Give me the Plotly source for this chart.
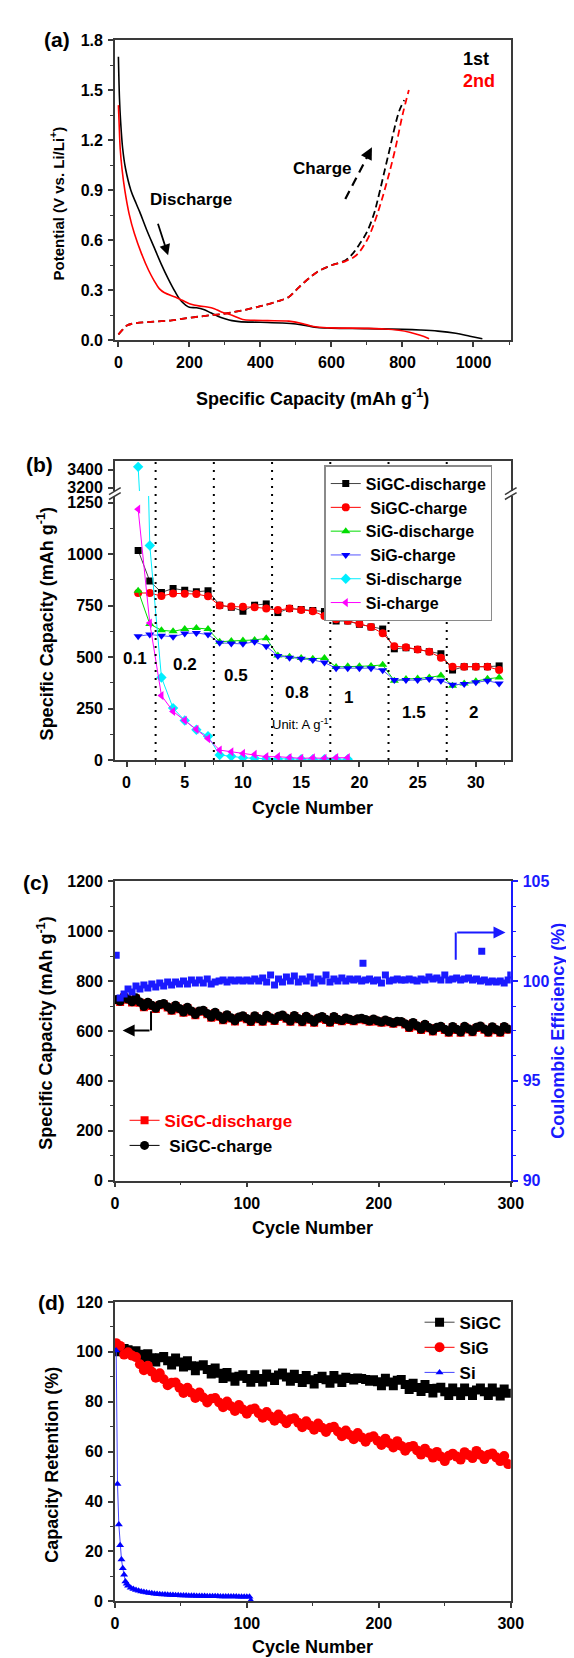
import plotly.graph_objects as go

FONT = "Liberation Sans, Arial, Helvetica, sans-serif"
W, H = 574, 1658
AX = "#3a3a3a"

# ---------------- panel (a): voltage profiles ----------------
a_dis1_cap = [0, 3, 6, 12, 20, 35, 50, 60, 80, 100, 120, 140, 160, 175, 190, 200, 220, 240, 260, 280, 300,
              320, 340, 400, 460, 500, 530, 560, 600, 700, 800, 850, 900, 950, 990, 1025]
a_dis1_v = [1.70, 1.45, 1.32, 1.15, 1.03, 0.90, 0.82, 0.77, 0.66, 0.56, 0.46, 0.37, 0.29, 0.24, 0.21, 0.198,
            0.195, 0.185, 0.165, 0.145, 0.13, 0.118, 0.112, 0.108, 0.104, 0.098, 0.088, 0.077, 0.073, 0.07,
            0.066, 0.062, 0.055, 0.042, 0.025, 0.01]
a_dis2_cap = [0, 2, 5, 10, 18, 30, 45, 65, 85, 100, 115, 130, 160, 180, 200, 230, 250, 270, 290, 320, 350,
              380, 420, 480, 520, 540, 560, 600, 700, 750, 790, 820, 850, 875]
a_dis2_v = [1.41, 1.30, 1.15, 1.03, 0.90, 0.76, 0.64, 0.52, 0.42, 0.36, 0.31, 0.285, 0.26, 0.24, 0.22, 0.205,
            0.20, 0.19, 0.17, 0.15, 0.125, 0.12, 0.118, 0.115, 0.10, 0.087, 0.08, 0.075, 0.072, 0.068, 0.06,
            0.048, 0.03, 0.01]
a_chg1_cap = [0, 10, 25, 40, 100, 150, 200, 250, 300, 350, 400, 450, 480, 500, 530, 560, 600, 640, 660, 680,
              700, 720, 730, 760, 790, 805]
a_chg1_v = [0.035, 0.06, 0.09, 0.10, 0.112, 0.12, 0.135, 0.148, 0.16, 0.18, 0.205, 0.235, 0.26, 0.30, 0.36,
            0.41, 0.45, 0.48, 0.52, 0.58, 0.65, 0.76, 0.84, 1.11, 1.37, 1.44]
a_chg2_cap = [0, 10, 25, 40, 100, 150, 200, 250, 300, 350, 400, 450, 480, 500, 530, 560, 600, 640, 670, 700,
              720, 740, 760, 780, 800, 818]
a_chg2_v = [0.035, 0.06, 0.09, 0.10, 0.112, 0.12, 0.135, 0.148, 0.16, 0.18, 0.205, 0.235, 0.26, 0.30, 0.36,
            0.41, 0.45, 0.475, 0.51, 0.60, 0.70, 0.83, 0.98, 1.15, 1.35, 1.50]

# ---------------- panel (b): rate performance ----------------
b_cycles = list(range(1, 33))
b_sigc_dis = [1018, 869, 814, 833, 824, 817, 822, 752, 742, 723, 752, 758, 716, 736, 731, 726, 721, 675, 675,
              659, 646, 636, 540, 545, 537, 526, 516, 437, 453, 453, 453, 457]
b_sigc_chg = [811, 811, 796, 809, 808, 806, 795, 750, 745, 744, 742, 736, 728, 736, 729, 723, 699, 684, 676,
              662, 646, 615, 553, 548, 537, 526, 497, 453, 453, 453, 453, 437]
b_sig_dis = [822, 660, 630, 625, 636, 641, 636, 574, 578, 580, 583, 591, 508, 502, 495, 492, 495, 452, 455,
             455, 457, 462, 385, 393, 396, 401, 410, 361, 372, 383, 394, 401]
b_sig_chg = [601, 609, 604, 598, 614, 617, 609, 569, 566, 564, 574, 553, 505, 497, 492, 486, 473, 446, 446,
             446, 446, 436, 388, 388, 388, 393, 385, 365, 369, 377, 385, 372]
b_si_cycles = list(range(1, 20))
b_si_dis = [3430, 1042, 401, 252, 192, 147, 115, 24, 18, 11, 8, 6, 5, 5, 4, 4, 4, 4, 4]
b_si_chg = [1218, 665, 313, 236, 192, 149, 104, 48, 40, 32, 27, 16, 16, 11, 8, 10, 8, 11, 11]
b_rate_bounds = [2.5, 7.5, 12.5, 17.5, 22.5, 27.5]
b_rate_labels = ["0.1", "0.2", "0.5", "0.8", "1", "1.5", "2"]
b_rate_lx = [0.7, 5.0, 9.4, 14.6, 19.1, 24.7, 29.8]
b_rate_ly = [494, 462, 409, 329, 304, 232, 232]

# ---------------- panel (c): long cycling SiGC ----------------
c_cycles = list(range(1, 300, 3))
c_charge = [726, 719, 738, 728, 717, 733, 716, 698, 715, 703,
            691, 706, 710, 697, 684, 703, 690, 676, 695, 680,
            666, 680, 683, 670, 656, 675, 660, 646, 665, 653,
            641, 656, 661, 650, 639, 661, 650, 640, 663, 653,
            643, 659, 664, 652, 640, 662, 650, 638, 659, 648,
            636, 652, 658, 647, 636, 658, 647, 642, 652, 647,
            642, 649, 651, 646, 640, 648, 641, 636, 644, 638,
            632, 639, 638, 629, 615, 634, 621, 607, 627, 614,
            601, 615, 619, 607, 596, 618, 607, 596, 619, 609,
            598, 615, 620, 608, 596, 617, 606, 596, 618, 608]
c_discharge = [723, 716, 735, 725, 714, 730, 713, 695, 712, 700,
               688, 703, 707, 694, 681, 700, 687, 673, 692, 677,
               663, 677, 680, 667, 653, 672, 657, 643, 662, 650,
               638, 653, 658, 647, 636, 658, 647, 637, 660, 650,
               640, 656, 661, 649, 637, 659, 647, 635, 656, 645,
               633, 649, 655, 644, 633, 655, 644, 639, 649, 644,
               639, 646, 648, 643, 637, 645, 638, 633, 641, 635,
               629, 636, 635, 626, 612, 631, 618, 604, 624, 611,
               598, 612, 616, 604, 593, 615, 604, 593, 616, 606,
               595, 612, 617, 605, 593, 614, 603, 593, 615, 605]
c_ce = [101.3, 99.15, 99.35, 99.6, 99.45, 99.75, 99.6, 99.8, 99.65, 99.85,
        99.7, 99.9, 99.75, 99.95, 99.8, 99.95, 99.85, 100.0, 99.85, 100.05,
        99.9, 100.05, 99.9, 100.1, 99.85, 99.95, 100.0, 100.05, 99.95, 100.05,
        100.0, 100.05, 100.0, 100.05, 100.0, 100.1, 100.0, 100.15, 99.95, 100.3,
        99.8, 100.1, 99.95, 100.2, 100.0, 100.25, 99.95, 100.1, 100.0, 100.2,
        99.9, 100.1, 100.0, 100.3, 99.95, 100.1, 100.0, 100.15, 100.0, 100.1,
        100.05, 100.1, 100.0, 100.05, 100.1, 100.0, 100.05, 99.9, 100.3, 100.0,
        100.05, 100.1, 100.05, 100.05, 100.1, 100.05, 100.0, 100.1, 100.05, 100.2,
        100.1, 100.15, 100.05, 100.3, 100.05, 100.1, 100.15, 100.05, 100.1, 100.15,
        100.05, 100.1, 100.0, 100.05, 99.95, 100.0, 99.95, 100.0, 99.9, 100.05]
c_ce_extra_cycles = [188, 278, 300]
c_ce_extra = [100.9, 101.5, 100.3]

# ---------------- panel (d): capacity retention ----------------
d_cycles = list(range(1, 300, 3))
d_sigc = [100.0, 100.5, 101.3, 100.8, 99.3, 100.4, 99.0, 97.5, 99.2, 97.6,
          95.9, 97.6, 98.1, 96.4, 94.7, 97.5, 95.9, 93.9, 96.4, 94.4,
          92.4, 94.3, 94.8, 92.9, 91.1, 93.5, 91.4, 89.3, 91.7, 89.9,
          88.2, 90.2, 90.8, 89.3, 87.8, 90.8, 89.3, 87.9, 91.1, 89.8,
          88.5, 90.7, 91.5, 89.9, 88.2, 91.0, 89.3, 87.7, 90.5, 88.8,
          87.1, 89.3, 90.2, 88.8, 87.4, 90.5, 89.1, 87.7, 89.8, 89.3,
          88.7, 89.5, 89.3, 88.9, 88.2, 88.8, 88.0, 86.4, 89.4, 87.9,
          86.4, 88.6, 88.9, 86.9, 84.9, 87.4, 85.7, 84.1, 86.9, 85.3,
          83.5, 85.4, 85.8, 84.0, 82.5, 85.5, 84.0, 82.5, 85.5, 84.0,
          82.5, 84.7, 85.5, 84.0, 82.5, 85.5, 83.9, 82.3, 85.1, 83.4]
d_sig = [103.5, 102.4, 98.9, 99.8, 98.5, 97.9, 95.0, 92.6, 94.4, 92.0,
         89.6, 91.4, 89.0, 86.6, 87.6, 87.7, 85.6, 83.5, 85.6, 83.6,
         81.5, 83.7, 81.7, 79.7, 81.2, 81.5, 79.7, 77.8, 80.1, 78.2,
         76.3, 78.7, 76.9, 75.2, 76.9, 77.3, 75.4, 73.6, 75.9, 74.1,
         72.4, 74.9, 73.1, 71.4, 73.0, 73.4, 71.6, 69.8, 72.2, 70.5,
         68.8, 71.3, 69.6, 67.9, 69.6, 70.0, 68.1, 66.2, 68.5, 66.7,
         65.0, 67.5, 65.7, 64.0, 65.7, 66.2, 64.4, 62.7, 65.2, 63.4,
         61.7, 64.2, 62.3, 60.4, 61.9, 62.3, 60.5, 58.8, 61.2, 59.5,
         57.6, 59.9, 58.0, 56.2, 58.3, 59.2, 58.0, 56.8, 59.8, 58.6,
         57.4, 60.3, 58.7, 57.0, 58.7, 59.3, 57.7, 56.2, 58.2, 55.0]
d_si_cycles = [1, 2, 3, 4, 5, 6, 7, 8, 9, 10, 12, 14, 16, 18, 20, 22, 24, 26, 28, 30, 32, 34, 36, 38, 40,
               42, 44, 46, 48, 50, 52, 54, 56, 58, 60, 62, 64, 66, 68, 70, 72, 74, 76, 78, 80, 82, 84, 86,
               88, 90, 92, 94, 96, 98, 100, 102, 103]
d_si = [100.5, 47.0, 30.8, 22.5, 16.8, 13.2, 10.6, 7.9, 7.0, 6.2, 5.4, 4.9, 4.5, 4.2, 3.9, 3.7, 3.5, 3.35,
        3.2, 3.05, 2.95, 2.85, 2.75, 2.7, 2.6, 2.55, 2.5, 2.45, 2.4, 2.35, 2.3, 2.3, 2.25, 2.2, 2.2, 2.15,
        2.15, 2.1, 2.1, 2.05, 2.05, 2.0, 2.0, 2.0, 1.95, 1.95, 1.95, 1.9, 1.9, 1.9, 1.9, 1.85, 1.85, 1.85,
        1.85, 1.8, 0.3]

# ---------------- layout helpers ----------------
def py(v):
    return 1 - v / H

def pxx(v):
    return v / W

XD = [106 / W, 514 / W]
DOM_A = [py(327.7), py(24.3)]
DOM_B_LOW = [py(751.7), py(485)]
DOM_B_UP = [py(480), py(450)]
DOM_C = [py(1176.7), py(874.3)]
DOM_D = [py(1601.7), py(1299.3)]

RED = "#FF0000"
GREEN = "#00DD00"
BLUE = "#0000FF"
CYAN = "#00EEFF"
MAG = "#FF00FF"
CEBLUE = "#1A1AFF"

def tfont(size=16, color="black", weight="bold"):
    return dict(family=FONT, size=size, color=color, weight=weight)

def axis(**kw):
    d = dict(showline=True, linecolor=AX, linewidth=1.5, ticks="outside", ticklen=5, tickwidth=1.5,
             tickcolor=AX, showgrid=False, zeroline=False, tickfont=tfont(16), ticklabelstandoff=2)
    d.update(kw)
    return d

def minor(dt, color=AX):
    return dict(ticks="outside", ticklen=3, tickwidth=1.2, tickcolor=color, dtick=dt, showgrid=False)

fig = go.Figure()

# ---- (a)
fig.add_trace(go.Scatter(x=a_dis1_cap, y=a_dis1_v, mode="lines", line=dict(color="black", width=1.6, shape="spline"),
                         xaxis="x", yaxis="y", showlegend=False))
fig.add_trace(go.Scatter(x=a_chg1_cap, y=a_chg1_v, mode="lines", line=dict(color="black", width=1.8, dash="7px,4px", shape="spline"),
                         xaxis="x", yaxis="y", showlegend=False))
fig.add_trace(go.Scatter(x=a_dis2_cap, y=a_dis2_v, mode="lines", line=dict(color=RED, width=1.6, shape="spline"),
                         xaxis="x", yaxis="y", showlegend=False))
fig.add_trace(go.Scatter(x=a_chg2_cap, y=a_chg2_v, mode="lines", line=dict(color=RED, width=1.8, dash="7px,4px", shape="spline"),
                         xaxis="x", yaxis="y", showlegend=False))

# ---- (b)
b_series = [
    ("SiGC-discharge", b_cycles, b_sigc_dis, "square", 7, "black", "#444444"),
    (" SiGC-charge", b_cycles, b_sigc_chg, "circle", 8, RED, RED),
    ("SiG-discharge", b_cycles, b_sig_dis, "triangle-up", 8, GREEN, GREEN),
    (" SiG-charge", b_cycles, b_sig_chg, "triangle-down", 8, BLUE, "#5555FF"),
    ("Si-discharge", b_si_cycles, b_si_dis, "diamond", 8, CYAN, CYAN),
    ("Si-charge", b_si_cycles, b_si_chg, "triangle-left", 8, MAG, MAG),
]
for name, xs, ys, sym, sz, mc, lc in b_series:
    fig.add_trace(go.Scatter(x=xs, y=ys, mode="lines+markers", name=name,
                             marker=dict(symbol=sym, size=sz, color=mc), line=dict(color=lc, width=1),
                             xaxis="x2", yaxis="y2", legend="legend"))
# upper (broken) part of the axis for the first Si-discharge point
fig.add_trace(go.Scatter(x=b_si_cycles, y=b_si_dis, mode="lines+markers", showlegend=False,
                         marker=dict(symbol="diamond", size=8, color=CYAN), line=dict(color=CYAN, width=1),
                         xaxis="x3", yaxis="y3"))

# ---- (c)
fig.add_trace(go.Scatter(x=c_cycles, y=c_discharge, mode="lines+markers", name="<span style='color:#FF0000'>SiGC-discharge</span>",
                         marker=dict(symbol="square", size=8, color=RED), line=dict(color=RED, width=1),
                         xaxis="x4", yaxis="y4", legend="legend2"))
fig.add_trace(go.Scatter(x=c_cycles, y=c_charge, mode="lines+markers", name=" SiGC-charge",
                         marker=dict(symbol="circle", size=9, color="black"), line=dict(color="black", width=1),
                         xaxis="x4", yaxis="y4", legend="legend2"))
fig.add_trace(go.Scatter(x=c_cycles, y=c_ce, mode="markers", showlegend=False,
                         marker=dict(symbol="square", size=7, color=CEBLUE), xaxis="x4", yaxis="y5"))
fig.add_trace(go.Scatter(x=c_ce_extra_cycles, y=c_ce_extra, mode="markers", showlegend=False,
                         marker=dict(symbol="square", size=7, color=CEBLUE), xaxis="x4", yaxis="y5"))

# ---- (d)
fig.add_trace(go.Scatter(x=d_cycles, y=d_sigc, mode="lines+markers", name="SiGC",
                         marker=dict(symbol="square", size=9, color="black"), line=dict(color="#444444", width=1),
                         xaxis="x5", yaxis="y6", legend="legend3"))
fig.add_trace(go.Scatter(x=d_cycles, y=d_sig, mode="lines+markers", name="SiG",
                         marker=dict(symbol="circle", size=10, color=RED), line=dict(color=RED, width=1),
                         xaxis="x5", yaxis="y6", legend="legend3"))
fig.add_trace(go.Scatter(x=d_si_cycles, y=d_si, mode="lines+markers", name="Si",
                         marker=dict(symbol="triangle-up", size=7, color=BLUE), line=dict(color="#4444FF", width=1),
                         xaxis="x5", yaxis="y6", legend="legend3"))

# ---------------- shapes ----------------
shapes = []
for xv in b_rate_bounds:
    shapes.append(dict(type="line", xref="x2", yref="paper", x0=xv, x1=xv, y0=DOM_B_LOW[0], y1=DOM_B_UP[1],
                       line=dict(color="black", width=2, dash="2px,6px")))
for bx in (106, 514):
    for cy in (480, 485):
        shapes.append(dict(type="line", xref="paper", yref="paper", x0=pxx(bx - 6), y0=py(cy + 3.5),
                           x1=pxx(bx + 6), y1=py(cy - 3.5), line=dict(color=AX, width=1.5)))
# (a) dashed "charge" arrow shaft
shapes.append(dict(type="line", xref="x", yref="y", x0=639, y0=0.847, x1=702, y1=1.105,
                   line=dict(color="black", width=2.2, dash="9px,6px")))
# (c) arrow shafts
shapes.append(dict(type="line", xref="x4", yref="y4", x0=27.4, y0=679, x1=27.4, y1=602,
                   line=dict(color="black", width=2)))
shapes.append(dict(type="line", xref="x4", yref="y4", x0=258.3, y0=886, x1=258.3, y1=995,
                   line=dict(color=CEBLUE, width=2)))

# ---------------- annotations ----------------
ann = []

def ptext(text, x, y, size=18, color="black", angle=0, weight="bold"):
    ann.append(dict(text=text, xref="paper", yref="paper", x=pxx(x), y=py(y), showarrow=False,
                    xanchor="center", yanchor="middle", textangle=angle, font=tfont(size, color, weight)))

def dtext(text, x, y, xr, yr, size=17, color="black", weight="bold"):
    ann.append(dict(text=text, xref=xr, yref=yr, x=x, y=y, showarrow=False,
                    xanchor="center", yanchor="middle", font=tfont(size, color, weight)))

# panel letters
ptext("(a)", 46.5, 24, 21)
ptext("(b)", 28.3, 453, 21)
ptext("(c)", 24.7, 875, 21)
ptext("(d)", 40.2, 1300, 21)
# axis titles
ptext("Specific Capacity (mAh g<sup>-1</sup>)", 310, 385, 18)
ptext("Potential (V vs. Li/Li<sup>+</sup>)", 45.7, 189, 15, angle=-90)
ptext("Cycle Number", 310, 800, 18)
ptext("Specific Capacity (mAh g<sup>-1</sup>)", 34.7, 614, 18, angle=-90)
ptext("Cycle Number", 310, 1225, 18)
ptext("Specific Capacity (mAh g<sup>-1</sup>)", 34.7, 1027.5, 18, angle=-90)
ptext("Coulombic Efficiency (%)", 563, 1025, 18, color=CEBLUE, angle=-90)
ptext("Cycle Number", 310, 1648, 18)
ptext("Capacity Retention (%)", 41, 1464, 18, angle=-90)

# (a) texts and arrows
dtext("1st", 1008, 1.687, "x", "y", 18)
dtext("2nd", 1016, 1.555, "x", "y", 18, RED)
dtext("Discharge", 205, 0.843, "x", "y", 17)
dtext("Charge", 574, 1.03, "x", "y", 17)
ann.append(dict(x=140, y=0.51, ax=110, ay=0.708, xref="x", yref="y", axref="x", ayref="y", text="",
                showarrow=True, arrowhead=2, arrowsize=1.2, arrowwidth=1.8, arrowcolor="black"))
ann.append(dict(x=714, y=1.157, ax=700, ay=1.10, xref="x", yref="y", axref="x", ayref="y", text="",
                showarrow=True, arrowhead=2, arrowsize=1.1, arrowwidth=2.2, arrowcolor="black"))

# (b) rate labels
for t, lx, ly in zip(b_rate_labels, b_rate_lx, b_rate_ly):
    dtext(t, lx, ly, "x2", "y2", 17)
dtext("Unit: A g<sup>-1</sup>", 14.9, 176, "x2", "y2", 13, weight="normal")

# (c) arrows
ann.append(dict(x=5.9, y=602, ax=27.4, ay=602, xref="x4", yref="y4", axref="x4", ayref="y4", text="",
                showarrow=True, arrowhead=2, arrowsize=1.2, arrowwidth=2, arrowcolor="black"))
ann.append(dict(x=296, y=995, ax=258.3, ay=995, xref="x4", yref="y4", axref="x4", ayref="y4", text="",
                showarrow=True, arrowhead=2, arrowsize=1.2, arrowwidth=2, arrowcolor=CEBLUE))

fig.update_layout(
    width=W, height=H, margin=dict(l=0, r=0, t=0, b=0),
    paper_bgcolor="white", plot_bgcolor="white",
    font=dict(family=FONT, size=16, color="black"),
    shapes=shapes, annotations=ann,
    xaxis=axis(domain=XD, anchor="y", range=[-10, 1105], tick0=0, dtick=200, minor=minor(100), mirror=True),
    yaxis=axis(domain=DOM_A, anchor="x", range=[0, 1.8], tick0=0, dtick=0.3, tickformat=".1f",
               minor=minor(0.15), mirror=True),
    xaxis2=axis(domain=XD, anchor="y2", range=[-1, 33], tick0=0, dtick=5, minor=minor(2.5), mirror=False),
    yaxis2=axis(domain=DOM_B_LOW, anchor="x2", range=[0, 1282], tick0=0, dtick=250, minor=minor(125), mirror=True),
    xaxis3=axis(domain=XD, anchor="y3", range=[-1, 33], side="top", ticks="", showticklabels=False, mirror=False),
    yaxis3=axis(domain=DOM_B_UP, anchor="x3", range=[3164, 3490], tickvals=[3200, 3400], mirror=True),
    xaxis4=axis(domain=XD, anchor="y4", range=[0, 300], tick0=0, dtick=100, minor=minor(50), mirror=True),
    yaxis4=axis(domain=DOM_C, anchor="x4", range=[0, 1200], tick0=0, dtick=200, minor=minor(100), mirror=False),
    yaxis5=axis(overlaying="y4", side="right", anchor="x4", range=[90, 105], tick0=90, dtick=5,
                linecolor=CEBLUE, tickcolor=CEBLUE, tickfont=tfont(16, CEBLUE), minor=minor(1.25, CEBLUE)),
    xaxis5=axis(domain=XD, anchor="y6", range=[0, 300], tick0=0, dtick=100, minor=minor(50), mirror=True),
    yaxis6=axis(domain=DOM_D, anchor="x5", range=[0, 120], tick0=0, dtick=20, minor=minor(10), mirror=True),
    legend=dict(x=pxx(322), y=py(454), xanchor="left", yanchor="top", bgcolor="white",
                bordercolor="#8a8a8a", borderwidth=1.3, font=tfont(16), itemwidth=30, tracegroupgap=0),
    legend2=dict(x=pxx(116), y=py(1098), xanchor="left", yanchor="top", bgcolor="rgba(0,0,0,0)",
                 borderwidth=0, font=tfont(17), itemwidth=30),
    legend3=dict(x=pxx(420), y=py(1302), xanchor="left", yanchor="top", bgcolor="rgba(0,0,0,0)",
                 borderwidth=0, font=tfont(17), itemwidth=30),
)

fig.write_html("out.html")
